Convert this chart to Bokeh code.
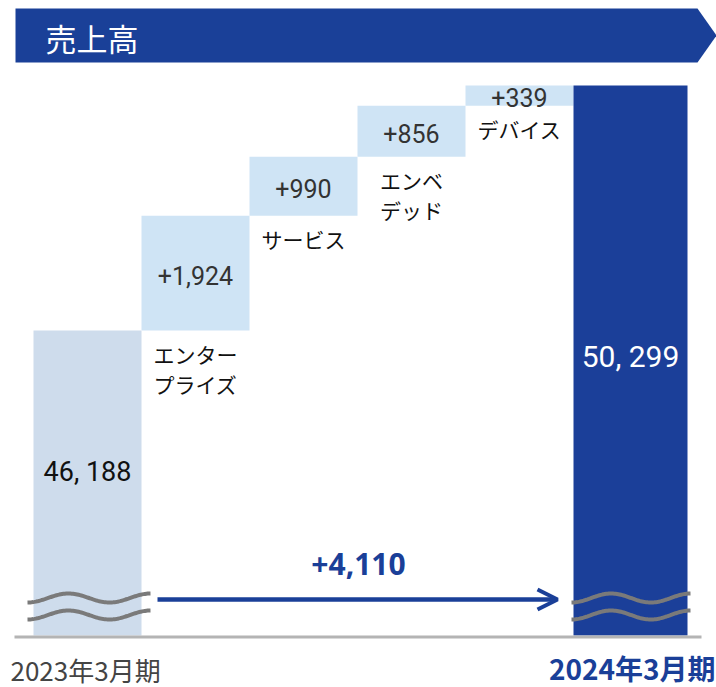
import numpy as np
from bokeh.plotting import figure
from bokeh.models import Range1d, Arrow, OpenHead
from bokeh.core.properties import value
from bokeh.embed import file_html
from bokeh.resources import INLINE

# ---------------- data ----------------
title = "売上高"
period_labels = ["2023年3月期", "2024年3月期"]
start_value = 46188
end_value = 50299
segment_labels = ["エンター\nプライズ", "サービス", "エンベ\nデッド", "デバイス"]
segment_deltas = [1924, 990, 856, 339]
total_change = 4110

# ---------------- geometry (pixels -> data) ----------------
W, H = 716, 687
BAR_PITCH = 108.0
FIRST_CENTER = 87.0
PX_PER_UNIT = 0.0596
REF_Y = 330.0  # pixel y of the first bar's top


def px(xp):
    return (xp - FIRST_CENTER) / BAR_PITCH


def py(yp):
    return start_value + (REF_Y - yp) / PX_PER_UNIT


def dpx(n):
    return n / PX_PER_UNIT


BLUE = "#1a3f98"
JP = value("Noto Sans CJK JP")
NARROW = value("Roboto")

p = figure(width=W, height=H, x_range=Range1d(px(0), px(W)), y_range=Range1d(py(H), py(0)),
           output_backend="svg", toolbar_location=None, min_border=0,
           x_axis_location=None, y_axis_location=None, outline_line_color=None)
p.grid.visible = False
p.background_fill_color = "white"
p.border_fill_color = "white"

# banner
p.patch(x=[px(15), px(697), px(716), px(697), px(15)],
        y=[py(8), py(8), py(35), py(62), py(62)], color="#1a4098", line_width=0)
p.text(x=[px(45)], y=[py(37)], text=[title], text_font=JP, text_font_size="31px",
       text_color="white", text_align="left", text_baseline="middle")

base = py(635)
deltas = np.array(segment_deltas)
cum = start_value + np.concatenate([[0], np.cumsum(deltas)])
bottoms, tops = cum[:-1], cum[1:]
centers = np.arange(1, len(deltas) + 1)
last_left, last_right = len(deltas) + 0.5, px(687)
last_center = (last_left + last_right) / 2

# bars
p.quad(left=[-0.5], right=[0.5], bottom=[base], top=[start_value], color="#cedcec", line_width=0)
p.quad(left=centers - 0.5, right=centers + 0.5, bottom=bottoms, top=tops, color="#cfe4f5", line_width=0)
p.quad(left=[last_left], right=[last_right], bottom=[base], top=[end_value], color="#1b3f99", line_width=0)

# delta value labels
p.text(x=centers, y=(bottoms + tops) / 2 - dpx(2), text=[f"+{d:,}" for d in segment_deltas],
       text_font=value("Roboto"), text_font_size="25px", text_color="#333333",
       text_align="center", text_baseline="middle")

# segment names
lx, ly, lt = [], [], []
for i, lab in enumerate(segment_labels):
    for k, line in enumerate(lab.split("\n")):
        lx.append(centers[i])
        ly.append(bottoms[i] - dpx(23 + 30 * k))
        lt.append(line)
p.text(x=lx, y=ly, text=lt, text_font=JP, text_font_size="21px", text_color="#111111",
       text_align="center", text_baseline="middle")

# totals
p.text(x=[0], y=[py(471)], text=[f"{start_value:,}".replace(",", ", ")], text_font=NARROW,
       text_font_size="27px", text_color="#111111", text_align="center", text_baseline="middle")
p.text(x=[last_center], y=[py(356)], text=[f"{end_value:,}".replace(",", ", ")], text_font=NARROW,
       text_font_size="30px", text_color="white", text_align="center", text_baseline="middle")

# break marks
t = np.linspace(0, 1, 90)
for x0, x1 in [(27, 150), (571, 690)]:
    xs = px(x0) + (px(x1) - px(x0)) * t
    for yc in (597.5, 614.5):
        p.line(xs, py(yc) - dpx(4.5) * np.cos(3 * np.pi * t), line_width=4, line_color="#7a7a7a")

# baseline
p.line([px(14), px(701)], [py(636.5), py(636.5)], line_width=3, line_color="#b4b4b4")

# change arrow
p.add_layout(Arrow(x_start=px(157), y_start=py(599), x_end=px(557), y_end=py(599),
                   line_width=4.5, line_color=BLUE,
                   end=OpenHead(size=20, line_width=4, line_color=BLUE)))
p.text(x=[(px(157) + px(559)) / 2], y=[py(563)], text=[f"+{total_change:,}"],
       text_font=value("Noto Sans"), text_font_style="bold", text_font_size="30px",
       text_color=BLUE, text_align="center", text_baseline="middle")

# period labels
p.text(x=[px(10)], y=[py(669)], text=[period_labels[0]], text_font=JP, text_font_size="26px",
       text_color="#444444", text_align="left", text_baseline="middle")
p.text(x=[px(715)], y=[py(667)], text=[period_labels[1]], text_font=JP, text_font_style="bold",
       text_font_size="28px", text_color=BLUE, text_align="right", text_baseline="middle")

open("out.html", "w").write(file_html(p, INLINE))
